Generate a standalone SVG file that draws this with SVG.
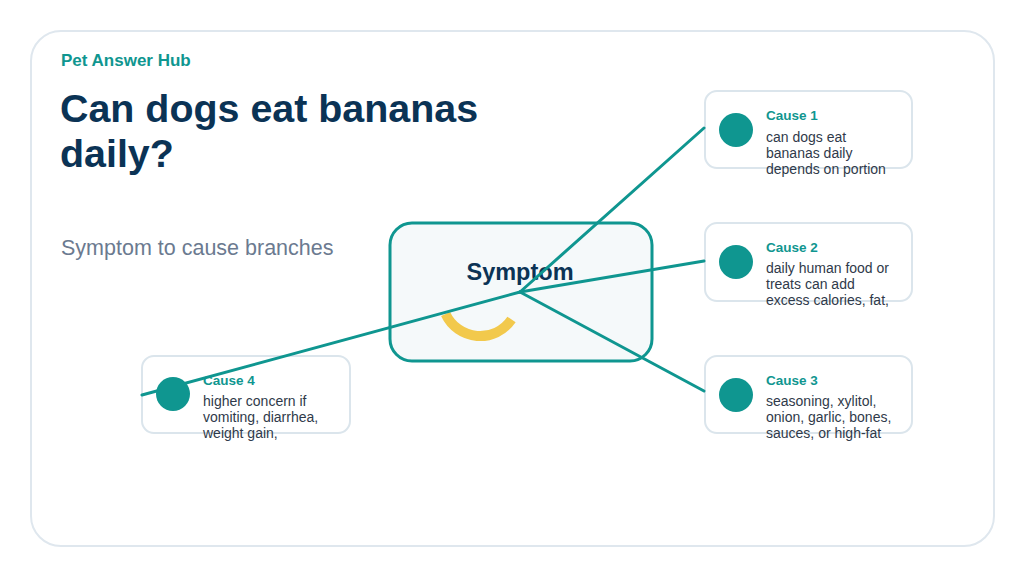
<svg xmlns="http://www.w3.org/2000/svg" width="1024" height="576" viewBox="0 0 1024 576">
  <style>
    .card { fill: #ffffff; stroke: #dbe5ec; stroke-width: 2; }
    .ctitle { font-family: "Liberation Sans", Arial, sans-serif; font-size: 13.5px; font-weight: bold; fill: #0f9690; }
    .cbody { font-family: "Liberation Sans", Arial, sans-serif; font-size: 14px; fill: #2f3a4a; }
    .dot { fill: #0f9690; }
    .conn { stroke: #0f9690; stroke-width: 3; fill: none; stroke-linecap: round; }
  </style>
  <rect x="0" y="0" width="1024" height="576" fill="#ffffff"/>
  <rect id="frame" x="31" y="31" width="963" height="515" rx="30" fill="#ffffff" stroke="#dfe7ee" stroke-width="2"/>
  <text x="61" y="66" font-family="Liberation Sans, Arial, sans-serif" font-size="17" font-weight="bold" fill="#0f9690">Pet Answer Hub</text>
  <text font-family="Liberation Sans, Arial, sans-serif" font-size="39.4" font-weight="bold" fill="#0b3355">
    <tspan x="60" y="121.5">Can dogs eat bananas</tspan>
    <tspan x="60" y="167">daily?</tspan>
  </text>
  <text x="61" y="255" font-family="Liberation Sans, Arial, sans-serif" font-size="21.5" fill="#6b7a90">Symptom to cause branches</text>

  <g id="symptom">
    <rect x="390" y="223" width="262" height="138" rx="22" fill="#f5f9fa" stroke="#0f9690" stroke-width="3"/>
    <text x="520" y="280" text-anchor="middle" font-family="Liberation Sans, Arial, sans-serif" font-size="23.5" font-weight="bold" fill="#0b3355">Symptom</text>
    <path d="M 511.5 319.5 A 38 38 0 0 1 445.6 314" fill="none" stroke="#f2c94c" stroke-width="10"/>
  </g>

  <g id="cause1">
    <rect class="card" x="705" y="91" width="207" height="77" rx="12"/>
    <text class="ctitle" x="766" y="120">Cause 1</text>
    <text class="cbody"><tspan x="766" y="141.5">can dogs eat</tspan><tspan x="766" y="157.5">bananas daily</tspan><tspan x="766" y="173.5">depends on portion</tspan></text>
  </g>
  <g id="cause2">
    <rect class="card" x="705" y="223" width="207" height="78" rx="12"/>
    <text class="ctitle" x="766" y="251.5">Cause 2</text>
    <text class="cbody"><tspan x="766" y="272.5">daily human food or</tspan><tspan x="766" y="288.5">treats can add</tspan><tspan x="766" y="304.5">excess calories, fat,</tspan></text>
  </g>
  <g id="cause3">
    <rect class="card" x="705" y="356" width="207" height="77" rx="12"/>
    <text class="ctitle" x="766" y="385">Cause 3</text>
    <text class="cbody"><tspan x="766" y="405.5">seasoning, xylitol,</tspan><tspan x="766" y="421.5">onion, garlic, bones,</tspan><tspan x="766" y="437.5">sauces, or high-fat</tspan></text>
  </g>
  <g id="cause4">
    <rect class="card" x="142" y="356" width="208" height="77" rx="12"/>
    <text class="ctitle" x="203" y="385">Cause 4</text>
    <text class="cbody"><tspan x="203" y="405.5">higher concern if</tspan><tspan x="203" y="421.5">vomiting, diarrhea,</tspan><tspan x="203" y="437.5">weight gain,</tspan></text>
  </g>

  <g id="connectors">
    <line class="conn" x1="520" y1="292" x2="704" y2="128"/>
    <line class="conn" x1="520" y1="292" x2="704" y2="261"/>
    <line class="conn" x1="520" y1="292" x2="704" y2="391"/>
    <line class="conn" x1="520" y1="292" x2="142" y2="395"/>
  </g>

  <g id="node-dots">
    <circle class="dot" cx="736" cy="130" r="17"/>
    <circle class="dot" cx="736" cy="262" r="17"/>
    <circle class="dot" cx="736" cy="395" r="17"/>
    <circle class="dot" cx="173" cy="394" r="17"/>
  </g>
</svg>
